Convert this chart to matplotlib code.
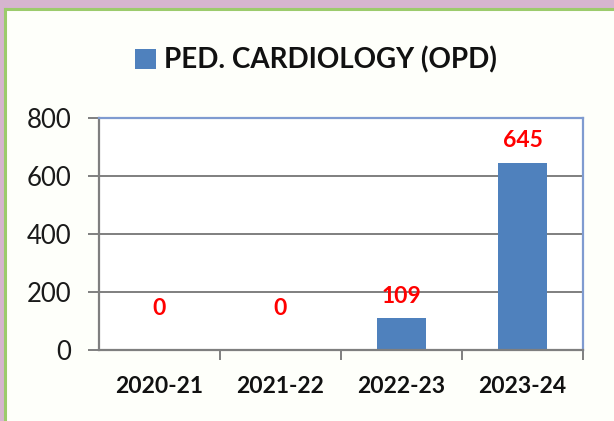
import matplotlib
matplotlib.use("Agg")
import matplotlib.pyplot as plt
from matplotlib.patches import Rectangle, Patch
from matplotlib.lines import Line2D

categories = ["2020-21", "2021-22", "2022-23", "2023-24"]
values = [0, 0, 109, 645]
label_offsets = [30, 30, 16, 16]  # points above bar top
series_name = "PED. CARDIOLOGY (OPD)"
yticks = [0, 200, 400, 600, 800]

plt.rcParams['font.family'] = ['Lato', 'DejaVu Sans']

fig = plt.figure(figsize=(6.14, 4.21), dpi=100)
fig.patch.set_facecolor('#FEFFFA')

W, H = 614, 421
# purple frame
fig.patches.append(Rectangle((0, 1 - 8 / H), 1, 8 / H, transform=fig.transFigure,
                             facecolor='#D6B5CF', edgecolor='none', zorder=0))
fig.patches.append(Rectangle((0, 0), 4 / W, 1, transform=fig.transFigure,
                             facecolor='#D6B5CF', edgecolor='none', zorder=0))
# green border
fig.lines.append(Line2D([5 / W, 5 / W], [0, 1 - 9 / H], transform=fig.transFigure,
                        color='#9CCB6C', lw=2.2))
fig.lines.append(Line2D([5 / W, 1], [1 - 9 / H, 1 - 9 / H], transform=fig.transFigure,
                        color='#9CCB6C', lw=2.2))

ax = fig.add_axes([99 / W, 71 / H, 484 / W, 232 / H])
ax.set_facecolor('white')
x = range(len(categories))
bars = ax.bar(x, values, width=0.4, color='#4F81BD', zorder=3)
ax.set_xlim(-0.5, len(categories) - 0.5)
ax.set_ylim(0, 800)
ax.set_yticks(yticks)
ax.yaxis.grid(True, color='#7F7F7F', lw=1.4, zorder=1)
ax.set_axisbelow(True)

for s in ['left', 'bottom']:
    ax.spines[s].set_color('#7F7F7F')
    ax.spines[s].set_linewidth(1.6)
for s in ['top', 'right']:
    ax.spines[s].set_color('#7F9BD0')
    ax.spines[s].set_linewidth(1.6)
ax.spines['bottom'].set_zorder(4)

ax.tick_params(axis='y', length=8, width=1.4, color='#7F7F7F', labelsize=18.5, pad=12,
               labelcolor='#1a1a1a')
ax.set_xticks(list(x))
ax.set_xticklabels(categories, fontsize=16.5, fontweight='bold', color='#111111')
ax.tick_params(axis='x', length=0, pad=19)
# category boundary ticks
ax.set_xticks([i + 0.5 for i in range(len(categories))], minor=True)
ax.tick_params(axis='x', which='minor', length=7, width=1.4, color='#7F7F7F', direction='out')

for i, v in enumerate(values):
    ax.annotate(str(v), (i, v), xytext=(0, label_offsets[i]), textcoords='offset points',
                ha='center', va='center', color='#FF0000', fontsize=16.5, fontweight='bold')

leg = fig.legend(handles=[Patch(facecolor='#4F81BD', label=series_name)],
                 loc='center', bbox_to_anchor=(0.515, 1 - 60 / H), frameon=False,
                 prop={'size': 20, 'weight': 'bold'}, handlelength=0.75, handleheight=0.75,
                 handletextpad=0.3)
for t in leg.get_texts():
    t.set_color('#111111')

fig.savefig('out.png', dpi=100, facecolor=fig.get_facecolor())
